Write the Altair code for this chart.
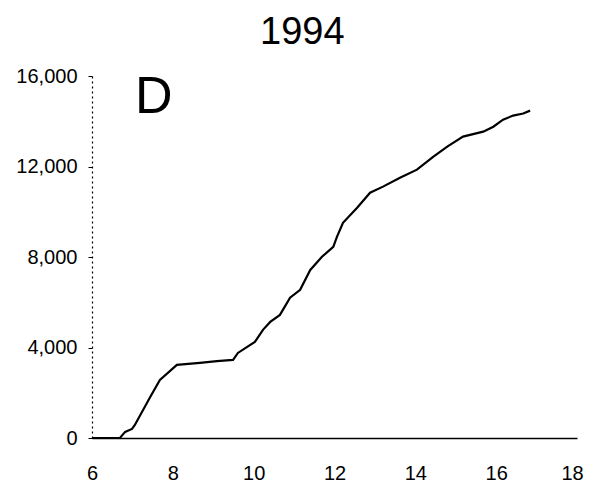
import altair as alt
import pandas as pd

# Cumulative curve
day = [6.0, 6.69, 6.82, 6.99, 7.06, 7.44, 7.68, 8.10, 8.67, 9.09, 9.49, 9.61,
       9.84, 10.03, 10.23, 10.41, 10.65, 10.90, 11.15, 11.40, 11.69, 11.97,
       12.06, 12.21, 12.56, 12.88, 13.20, 13.62, 14.04, 14.44, 14.79, 15.18,
       15.68, 15.93, 16.17, 16.42, 16.67, 16.84]
total = [0, 0, 270, 400, 575, 1810, 2570, 3230, 3320, 3400, 3450, 3760,
         4030, 4250, 4780, 5130, 5440, 6200, 6550, 7430, 8010, 8450,
         8890, 9510, 10180, 10840, 11110, 11500, 11860, 12430, 12880, 13320,
         13540, 13760, 14070, 14250, 14340, 14470]

x_ticks = [6, 8, 10, 12, 14, 16, 18]
y_ticks = [0, 4000, 8000, 12000, 16000]
title_text = "1994"
panel_label = "D"

df = pd.DataFrame({"day": day, "total": total})
FONT = "Liberation Sans"

line = alt.Chart(df).mark_line(color="black", strokeWidth=2.2).encode(
    x=alt.X("day:Q", scale=alt.Scale(domain=[6, 18], nice=False, zero=False),
            axis=alt.Axis(values=x_ticks, title=None, grid=False, ticks=False,
                          labelFontSize=20, labelFont=FONT, labelColor="black",
                          labelPadding=25, domainColor="black", domainWidth=1.5,
                          labelFlush=False,
                          labelOffset={"condition": {"test": "datum.value == 18", "value": -5},
                                       "value": 0})),
    y=alt.Y("total:Q", scale=alt.Scale(domain=[0, 16000], nice=False),
            axis=alt.Axis(values=y_ticks, format=",d", title=None, grid=False,
                          tickSize=4, tickColor="black", labelFontSize=20,
                          labelFont=FONT, labelColor="black", labelPadding=11,
                          domainColor="black", domainDash=[2, 3], domainWidth=1.2)),
)

label = alt.Chart(pd.DataFrame({"t": [panel_label]})).mark_text(
    font=FONT, fontSize=52, align="left", baseline="alphabetic", color="black"
).encode(text="t:N", x=alt.value(43), y=alt.value(37))

chart = alt.layer(line, label).properties(
    width=485, height=362,
    title=alt.TitleParams(text=title_text, anchor="start", frame="group",
                          dx=168, dy=21, offset=5,
                          baseline="alphabetic", fontSize=38, font=FONT,
                          fontWeight="normal", color="black"),
    autosize=alt.AutoSizeParams(type="none"),
    padding={"left": 84, "top": 68, "right": 7, "bottom": 46},
).configure_view(stroke=None)

chart.save("out.html", embed_options={"renderer": "svg", "actions": False})
